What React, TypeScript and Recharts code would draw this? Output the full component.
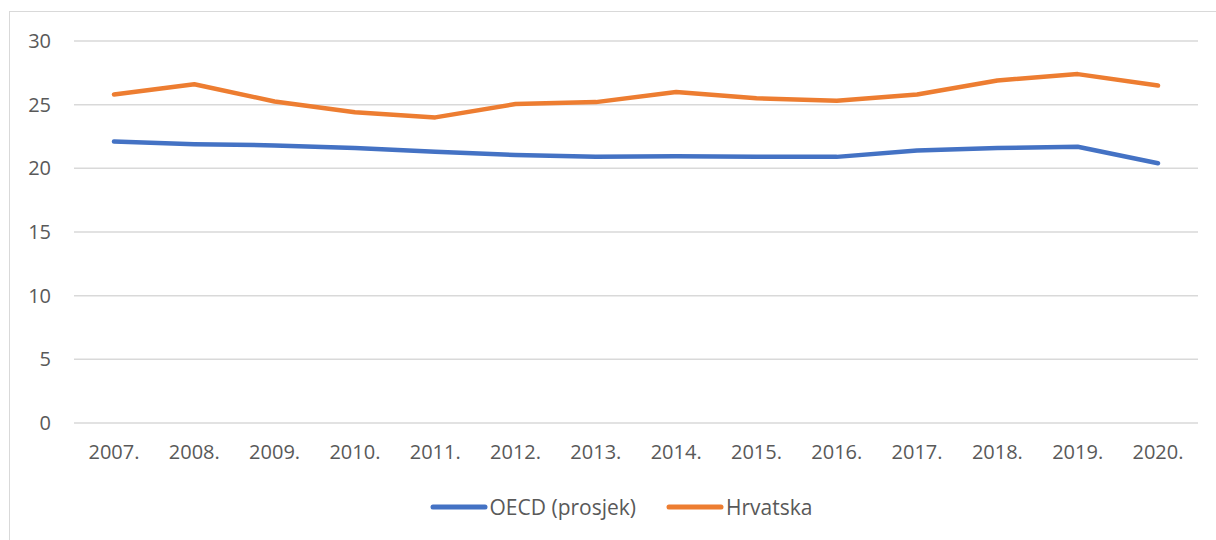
import { CartesianGrid, Legend, Line, LineChart, XAxis, YAxis } from "recharts";

const years = ["2007.", "2008.", "2009.", "2010.", "2011.", "2012.", "2013.", "2014.", "2015.", "2016.", "2017.", "2018.", "2019.", "2020."];
const oecd = [22.1, 21.9, 21.8, 21.6, 21.3, 21.05, 20.9, 20.95, 20.9, 20.9, 21.4, 21.6, 21.7, 20.4];
const hrvatska = [25.8, 26.6, 25.25, 24.4, 24.0, 25.05, 25.2, 26.0, 25.5, 25.3, 25.8, 26.9, 27.4, 26.5];
const yTicks = [0, 5, 10, 15, 20, 25, 30];

const seriesMeta = [
  { key: "oecd", name: "OECD (prosjek)", color: "#4472C4" },
  { key: "hrvatska", name: "Hrvatska", color: "#ED7D31" }
];

const data = years.map((year, i) => ({ year, oecd: oecd[i], hrvatska: hrvatska[i] }));

const font = "'Open Sans', 'Liberation Sans', sans-serif";
const textColor = "#595959";

function LegendContent() {
  return (
    <div style={{ display: "flex", justifyContent: "center", alignItems: "center", height: 40, paddingLeft: 44, fontFamily: font, fontSize: 21, color: textColor }}>
      {seriesMeta.map((s, i) => (
        <div key={s.key} style={{ display: "flex", alignItems: "center", marginLeft: i ? 30 : 0 }}>
          <svg width={58} height={10}>
            <line x1={3} y1={5} x2={55} y2={5} stroke={s.color} strokeWidth={5} strokeLinecap="round" />
          </svg>
          <span style={{ marginLeft: 2 }}>{s.name}</span>
        </div>
      ))}
    </div>
  );
}

export default function App() {
  return (
    <div style={{ position: "fixed", left: 0, top: 0, width: 1216, height: 540, overflow: "hidden", background: "#fff" }}>
      <div style={{ position: "absolute", left: 9, top: 11, width: 1300, height: 600, border: "1.5px solid #d9d9d9" }} />
      <div style={{ position: "absolute", left: 0, top: 0 }}>
        <LineChart width={1216} height={540} data={data} margin={{ top: 41, right: 18, bottom: 13, left: 0 }}>
          <CartesianGrid vertical={false} stroke="#d9d9d9" strokeWidth={1.5} />
          <XAxis
            dataKey="year"
            padding={{ left: 40, right: 40 }}
            height={64}
            axisLine={false}
            tickLine={false}
            tickSize={0}
            tickMargin={22}
            interval={0}
            tick={{ fill: textColor, fontSize: 20, fontFamily: font }}
          />
          <YAxis
            domain={[0, 30]}
            ticks={yTicks}
            width={74}
            axisLine={false}
            tickLine={false}
            tickSize={0}
            tickMargin={23}
            tick={{ fill: textColor, fontSize: 20, fontFamily: font }}
          />
          <Legend verticalAlign="bottom" content={() => <LegendContent />} />
          {seriesMeta.map((s) => (
            <Line
              key={s.key}
              dataKey={s.key}
              name={s.name}
              stroke={s.color}
              strokeWidth={4.5}
              strokeLinecap="round"
              strokeLinejoin="round"
              dot={false}
              activeDot={false}
              isAnimationActive={false}
            />
          ))}
        </LineChart>
      </div>
    </div>
  );
}
